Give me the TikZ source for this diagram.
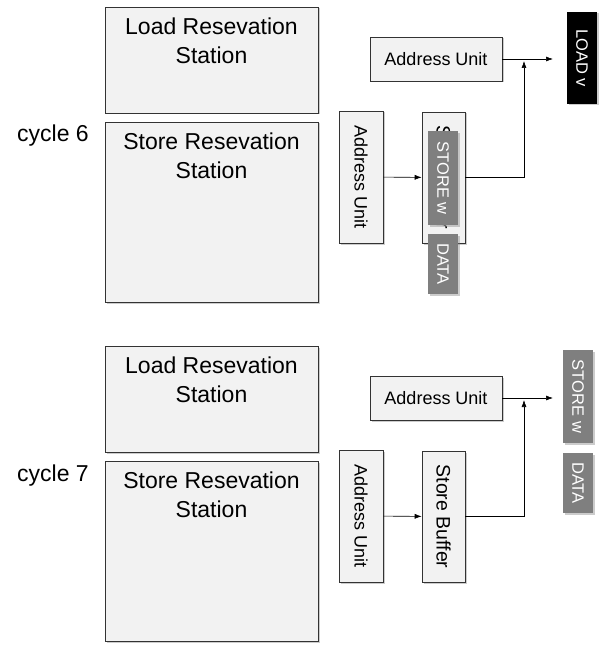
\documentclass[tikz,border=0pt]{standalone}
\usepackage{fontspec}
\setmainfont{Liberation Sans}
\usetikzlibrary{shadows,arrows.meta}
\definecolor{boxfill}{HTML}{F2F2F2}
\definecolor{tagfill}{HTML}{7F7F7F}
\tikzset{
	shade box/.style={drop shadow={shadow xshift=1.5pt,shadow yshift=-1.5pt,opacity=0.4}},
	unit/.style={draw=black!80,fill=boxfill,shade box,inner sep=0pt},
	rs/.style={unit,minimum width=213pt},
	rstext/.style={anchor=north,align=center,inner sep=0pt,font=\fontsize{23}{29}\selectfont},
	au/.style={unit,font=\fontsize{18}{22}\selectfont},
	buf/.style={unit,rotate=-90,font=\fontsize{19.5}{22}\selectfont},
	tag/.style={fill=tagfill,text=white,rotate=-90,inner sep=0pt,shade box,font=\fontsize{16.5}{19}\selectfont},
	cyc/.style={anchor=base,inner sep=0pt,font=\fontsize{23}{28}\selectfont},
}
\begin{document}
\begin{tikzpicture}[x=1pt,y=-1pt,>={Latex[length=7pt,width=5pt]},line width=0.6pt]
	\useasboundingbox (0,0) rectangle (609,650);
	% cycle 6
	\node[cyc] (c6) at (53,142) {cycle 6};
	\node[rs,minimum height=106pt] (lrs6) at (211.5,60) {};
	\node[rstext] (lrs6t) at ([yshift=-11pt]lrs6.north) {Load Resevation\\Station};
	\node[rs,minimum height=180pt] (srs6) at (211.5,212) {};
	\node[rstext] (srs6t) at ([yshift=-11pt]srs6.north) {Store Resevation\\Station};
	\node[au,minimum width=132pt,minimum height=44pt] (au6) at (436,59) {Address Unit};
	\node[au,rotate=-90,minimum width=132pt,minimum height=44pt] (auv6) at (361,177) {Address Unit};
	\node[buf,minimum width=131pt,minimum height=43pt] (sb6) at (443.5,177.5) {Store Buffer};
	\node[tag,minimum width=94pt,minimum height=30pt] (st6) at (443,178) {STORE w};
	\node[tag,minimum width=60pt,minimum height=30pt] (dt6) at (443,264) {DATA};
	\node[tag,fill=black,minimum width=92pt,minimum height=30pt] (ld6) at (582,58) {LOAD v};
	\coordinate (out6) at (553,59);
	\coordinate (j6) at (524,61);
	\draw[->] (auv6) -- (sb6);
	\draw[->] (au6) -- (out6);
	\draw[->] (sb6.north) -| (j6);
	% cycle 7
	\node[cyc] (c7) at (53,481) {cycle 7};
	\node[rs,minimum height=106pt] (lrs7) at (211.5,399) {};
	\node[rstext] (lrs7t) at ([yshift=-11pt]lrs7.north) {Load Resevation\\Station};
	\node[rs,minimum height=180pt] (srs7) at (211.5,551) {};
	\node[rstext] (srs7t) at ([yshift=-11pt]srs7.north) {Store Resevation\\Station};
	\node[au,minimum width=132pt,minimum height=44pt] (au7) at (436,398) {Address Unit};
	\node[au,rotate=-90,minimum width=132pt,minimum height=44pt] (auv7) at (361,516) {Address Unit};
	\node[buf,minimum width=131pt,minimum height=43pt] (sb7) at (443.5,516.5) {Store Buffer};
	\node[tag,minimum width=93pt,minimum height=30pt] (st7) at (578,396.5) {STORE w};
	\node[tag,minimum width=60pt,minimum height=30pt] (dt7) at (578,483) {DATA};
	\coordinate (out7) at (553,398);
	\coordinate (j7) at (524,400);
	\draw[->] (auv7) -- (sb7);
	\draw[->] (au7) -- (out7);
	\draw[->] (sb7.north) -| (j7);
\end{tikzpicture}
\end{document}
